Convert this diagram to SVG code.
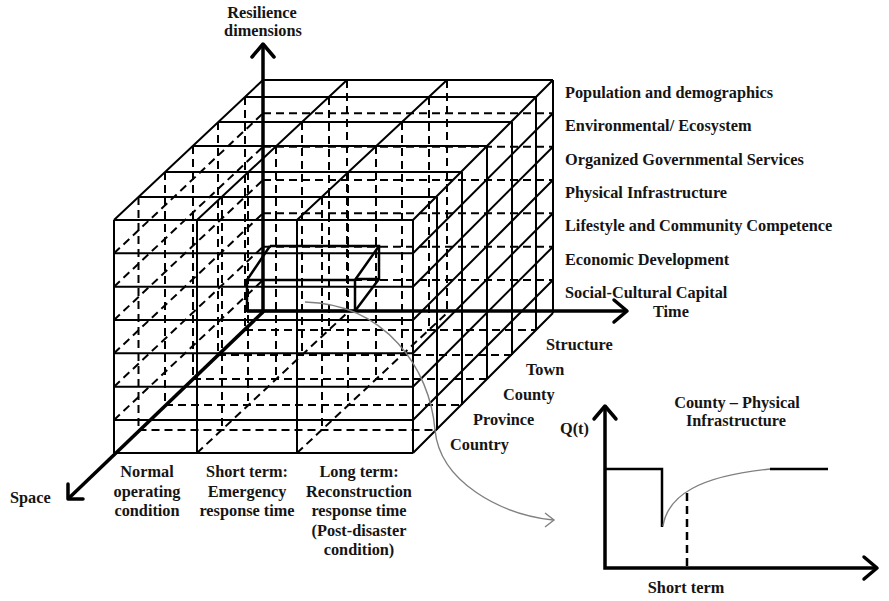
<svg xmlns="http://www.w3.org/2000/svg" width="889" height="601" viewBox="0 0 889 601">
  <style>
    .ln { fill: none; stroke: #000; stroke-width: 2; stroke-linecap: butt; }
    .dash { fill: none; stroke: #000; stroke-width: 2; stroke-dasharray: 8 5; }
    .axis { fill: none; stroke: #000; stroke-width: 3.5; stroke-linejoin: miter; }
    .head { fill: none; stroke: #000; stroke-width: 3.5; stroke-linecap: round; stroke-linejoin: round; }
    .thin { fill: none; stroke: #808080; stroke-width: 1.4; }
    text { font-family: "Liberation Serif", "Times New Roman", serif; font-weight: bold; font-size: 16.3px; fill: #151515; }
    .mid { text-anchor: middle; }
  </style>
  <rect width="889" height="601" fill="#fff"/>

  <!-- hidden grid lines of the cube (back, left and bottom faces, inner columns) -->
  <g id="cube-hidden" class="dash">
    <!-- back face rows -->
    <path d="M263,113.3H553M263,146.7H553M263,180H553M263,213.3H553M263,246.7H553M263,280H553"/>
    <!-- back face columns -->
    <path d="M347,80V313M447,80V313"/>
    <!-- left face depth verticals -->
    <path d="M138.5,197V430M165,172V405M193,146V379M218,122V355M245,97V330"/>
    <!-- left face row diagonals -->
    <path d="M114,253.3L263,113.3M114,286.7L263,146.7M114,320L263,180M114,353.3L263,213.3M114,386.7L263,246.7M114,420L263,280"/>
    <!-- bottom face depth lines -->
    <path d="M138.5,430H437M165,405H462M193,379H487M218,355H512M245,330H536"/>
    <!-- bottom face column diagonals -->
    <path d="M197,453L347,313M297,453L447,313"/>
    <!-- inner column verticals -->
    <path d="M222,197V430M248,172V405M276,146V379M302,122V355M329,97V330"/>
    <path d="M322,197V430M348,172V405M376,146V379M402,122V355M429,97V330"/>
  </g>

  <!-- visible faces of the cube -->
  <g id="cube-front" class="ln">
    <path d="M114,220H413M114,253.3H413M114,286.7H413M114,320H413M114,353.3H413M114,386.7H413M114,420H413M114,453H413"/>
    <path d="M114,220V453M197,220V453M297,220V453M413,220V453"/>
  </g>
  <g id="cube-top" class="ln">
    <path d="M138.5,197H437M165,172H462M193,146H487M218,122H512M245,97H536M263,80H553"/>
    <path d="M114,220L263,80M197,220L347,80M297,220L447,80M413,220L553,80"/>
  </g>
  <g id="cube-right" class="ln">
    <path d="M437,197V430M462,172V405M487,146V379M512,122V355M536,97V330M553,80V313"/>
    <path d="M413,253.3L553,113.3M413,286.7L553,146.7M413,320L553,180M413,353.3L553,213.3M413,386.7L553,246.7M413,420L553,280M413,453L553,313"/>
  </g>

  <!-- highlighted cell -->
  <g id="selected-cell" class="ln" style="stroke-width:2.5">
    <path d="M247,280H355V311H247Z"/>
    <path d="M270,246H379V279H355"/>
    <path d="M247,280L270,246M355,280L379,246M355,311L379,279"/>
  </g>

  <!-- axes -->
  <g id="axes">
    <path class="axis" d="M263,313V45"/>
    <path class="head" d="M252,57L263,44L274,57"/>
    <path class="axis" d="M247,311H626"/>
    <path class="head" d="M614,300L627,311L614,322"/>
    <path class="axis" d="M263,312L69,498"/>
    <path class="head" d="M68,484V499H83"/>
  </g>

  <!-- axis and dimension labels -->
  <g id="labels">
    <text class="mid" x="262" y="18">Resilience</text>
    <text class="mid" x="263" y="36">dimensions</text>
    <text x="565" y="98">Population and demographics</text>
    <text x="565" y="131">Environmental/ Ecosystem</text>
    <text x="565" y="164.5">Organized Governmental Services</text>
    <text x="565" y="198">Physical Infrastructure</text>
    <text x="565" y="231">Lifestyle and Community Competence</text>
    <text x="565" y="264.5">Economic Development</text>
    <text x="565" y="298">Social-Cultural Capital</text>
    <text x="653" y="317">Time</text>
    <text x="546" y="350">Structure</text>
    <text x="526" y="375">Town</text>
    <text x="503" y="400">County</text>
    <text x="473" y="425">Province</text>
    <text x="450" y="450">Country</text>
    <text x="10" y="503">Space</text>
    <text class="mid" x="147" y="477">Normal</text>
    <text class="mid" x="147" y="497">operating</text>
    <text class="mid" x="147" y="516">condition</text>
    <text class="mid" x="247" y="477">Short term:</text>
    <text class="mid" x="247" y="497">Emergency</text>
    <text class="mid" x="247" y="516">response time</text>
    <text class="mid" x="359" y="477">Long term:</text>
    <text class="mid" x="359" y="497">Reconstruction</text>
    <text class="mid" x="359" y="516">response time</text>
    <text class="mid" x="359" y="536">(Post-disaster</text>
    <text class="mid" x="359" y="555">condition)</text>
  </g>

  <!-- connector from the highlighted cell to the recovery plot -->
  <g id="connectors">
    <path class="thin" d="M305,302C385,304 430,368 435,430C440,482 500,514 553,520"/>
    <path class="thin" d="M545,513L554,520L545,527"/>
  </g>

  <!-- recovery curve Q(t) -->
  <g id="recovery-plot">
    <text class="mid" x="737" y="408">County – Physical</text>
    <text class="mid" x="736" y="426">Infrastructure</text>
    <text x="560" y="434">Q(t)</text>
    <text class="mid" x="686" y="593">Short term</text>
    <path class="axis" d="M605,406V568H875"/>
    <path class="head" d="M594,419L605,406L616,419"/>
    <path class="head" d="M864,557L877,568L864,579"/>
    <path class="ln" style="stroke-width:2.5" d="M605,469H662V527"/>
    <path class="thin" d="M663,526C668,495 700,476 770,469"/>
    <path class="ln" style="stroke-width:2.5" d="M770,469H828"/>
    <path class="dash" style="stroke-width:2.5" d="M687,493V568"/>
  </g>
</svg>
